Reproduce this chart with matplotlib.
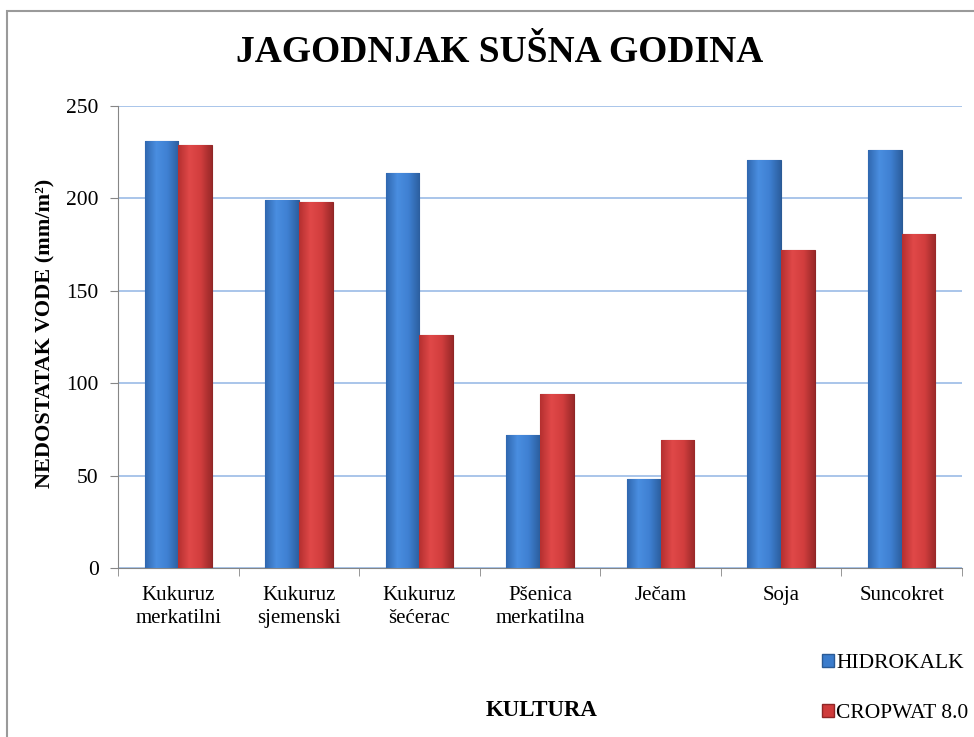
import matplotlib
matplotlib.use("Agg")
import matplotlib.pyplot as plt
import numpy as np
from matplotlib.patches import Rectangle
from matplotlib.colors import LinearSegmentedColormap

plt.rcParams['font.family'] = ['Liberation Serif', 'DejaVu Serif']

# data
categories = ['Kukuruz\nmerkatilni', 'Kukuruz\nsjemenski', 'Kukuruz\nšećerac',
              'Pšenica\nmerkatilna', 'Ječam', 'Soja', 'Suncokret']
hidrokalk = [231, 199, 214, 72, 48, 221, 226]
cropwat = [229, 198, 126, 94, 69, 172, 181]

fig = plt.figure(figsize=(9.74, 7.37), dpi=100)

# outer chart border (right/bottom edges fall off the picture)
fig.patches.append(Rectangle((7 / 974, -0.05), 1.0, 1 - 11 / 737 + 0.05,
                             transform=fig.transFigure, fill=False,
                             edgecolor='#9a9a9a', linewidth=1.5))

ax = fig.add_axes([118 / 974, 1 - 568 / 737, 844 / 974, 462 / 737])

x = np.arange(len(categories))
w = 0.28
b1 = ax.bar(x - w / 2, hidrokalk, w, color='#3b7ccc', edgecolor='#2a5a95', linewidth=0.8, zorder=3)
b2 = ax.bar(x + w / 2, cropwat, w, color='#cf3b3b', edgecolor='#8f2626', linewidth=0.8, zorder=3)

# horizontal shading on the bars to mimic the bevel look
blue_cm = LinearSegmentedColormap.from_list('b', ['#3068b0', '#4a8ee0', '#3f80d2', '#2c5f9f'])
red_cm = LinearSegmentedColormap.from_list('r', ['#b53030', '#e04848', '#d23e3e', '#9a2929'])
grad = np.linspace(0, 1, 64).reshape(1, -1)
for bars, cm in ((b1, blue_cm), (b2, red_cm)):
    for p in bars:
        x0, y0 = p.get_x(), p.get_y()
        im = ax.imshow(grad, cmap=cm, aspect='auto', zorder=3.5,
                       extent=[x0, x0 + p.get_width(), y0, y0 + p.get_height()])
        im.set_clip_path(p)

ax.set_xlim(-0.5, len(categories) - 0.5)
ax.set_ylim(0, 250)
ax.set_yticks([0, 50, 100, 150, 200, 250])
ax.yaxis.grid(True, color='#9bbbe6', linewidth=1.2, zorder=0)
ax.set_axisbelow(True)

ax.set_xticks(x)
ax.set_xticklabels(categories, fontsize=15, linespacing=1.3)
ax.set_xticks(np.arange(len(categories) + 1) - 0.5, minor=True)
ax.tick_params(axis='x', which='major', length=0, pad=13)
ax.tick_params(axis='x', which='minor', length=6, color='#868686')
ax.tick_params(axis='y', length=6, color='#868686', labelsize=15.5, pad=8)

for s in ['top', 'right']:
    ax.spines[s].set_visible(False)
for s in ['left', 'bottom']:
    ax.spines[s].set_color('#868686')

fig.text(500 / 974, 1 - 53 / 737, 'JAGODNJAK SUŠNA GODINA', ha='center', va='center',
         fontsize=27, fontweight='bold')
fig.text(45 / 974, 1 - 333 / 737, 'NEDOSTATAK VODE (mm/m²)', rotation=90,
         ha='center', va='center', fontsize=16, fontweight='bold')
fig.text(542 / 974, 1 - 710 / 737, 'KULTURA', ha='center', va='center',
         fontsize=16.5, fontweight='bold')

h1 = Rectangle((0, 0), 1, 1, facecolor='#3b7ccc', edgecolor='#2a5a95')
h2 = Rectangle((0, 0), 1, 1, facecolor='#cf3b3b', edgecolor='#8f2626')
fig.legend([h1, h2], ['HIDROKALK', 'CROPWAT 8.0'], loc='upper left',
           bbox_to_anchor=(822 / 974, 1 - 654 / 737), frameon=False,
           fontsize=15.5, handlelength=0.55, handleheight=0.55, handletextpad=0.1,
           labelspacing=1.45, borderpad=0, borderaxespad=0)

fig.savefig('out.png', dpi=100)
